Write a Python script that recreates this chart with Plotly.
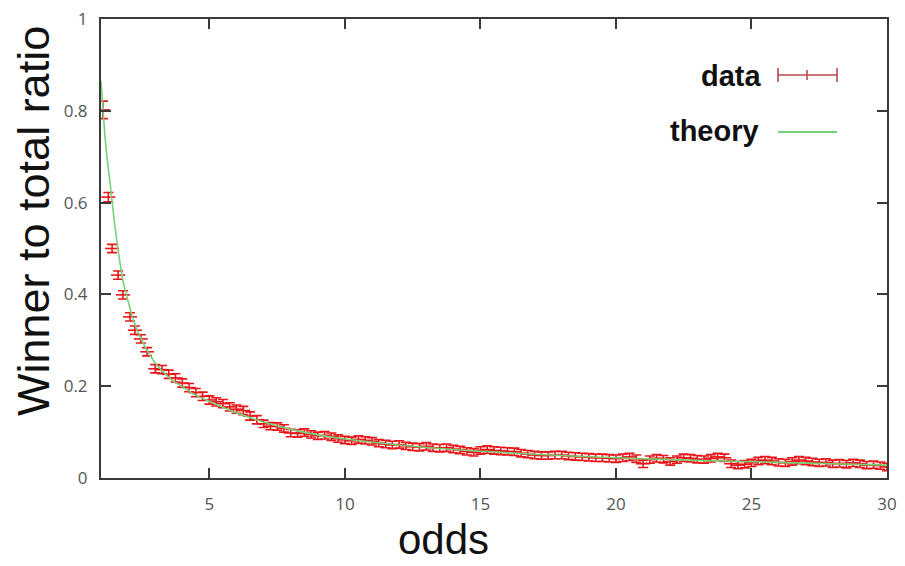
import plotly.graph_objects as go

# ---------------- data ----------------
odds_sparse = [1.07, 1.27, 1.41, 1.63, 1.81, 2.07, 2.25, 2.47, 2.70, 3.00]
ratio_sparse = [0.802, 0.612, 0.500, 0.442, 0.399, 0.351, 0.322, 0.303, 0.275, 0.238]
err_sparse = [0.019, 0.010, 0.009, 0.009, 0.009, 0.009, 0.009, 0.009, 0.009, 0.009]

odds_dense = [3.25, 3.5, 3.75, 4.0, 4.25, 4.5, 4.75, 5.0, 5.25, 5.5, 5.75, 6.0,
              6.25, 6.5, 6.75, 7.0, 7.25, 7.5, 7.75, 8.0, 8.25, 8.5, 8.75, 9.0,
              9.25, 9.5, 9.75, 10.0, 10.25, 10.5, 10.75, 11.0, 11.25, 11.5, 11.75, 12.0,
              12.25, 12.5, 12.75, 13.0, 13.25, 13.5, 13.75, 14.0, 14.25, 14.5, 14.75, 15.0,
              15.25, 15.5, 15.75, 16.0, 16.25, 16.5, 16.75, 17.0, 17.25, 17.5, 17.75, 18.0,
              18.25, 18.5, 18.75, 19.0, 19.25, 19.5, 19.75, 20.0, 20.25, 20.5, 20.75, 21.0,
              21.25, 21.5, 21.75, 22.0, 22.25, 22.5, 22.75, 23.0, 23.25, 23.5, 23.75, 24.0,
              24.25, 24.5, 24.75, 25.0, 25.25, 25.5, 25.75, 26.0, 26.25, 26.5, 26.75, 27.0,
              27.25, 27.5, 27.75, 28.0, 28.25, 28.5, 28.75, 29.0, 29.25, 29.5, 29.75, 30.0]
ratio_dense = [0.236, 0.226, 0.218, 0.207, 0.197, 0.186, 0.178, 0.170, 0.166, 0.162, 0.155, 0.150,
               0.147, 0.135, 0.127, 0.118, 0.113, 0.112, 0.108, 0.098, 0.097, 0.099, 0.095, 0.092,
               0.093, 0.090, 0.086, 0.083, 0.081, 0.084, 0.082, 0.080, 0.076, 0.074, 0.072, 0.073,
               0.070, 0.068, 0.067, 0.069, 0.066, 0.065, 0.066, 0.063, 0.061, 0.058, 0.056, 0.060,
               0.062, 0.060, 0.059, 0.058, 0.057, 0.054, 0.052, 0.050, 0.049, 0.049, 0.050, 0.050,
               0.048, 0.047, 0.046, 0.045, 0.044, 0.044, 0.043, 0.042, 0.044, 0.046, 0.042, 0.031,
               0.040, 0.043, 0.041, 0.036, 0.040, 0.044, 0.043, 0.041, 0.040, 0.043, 0.046, 0.044,
               0.031, 0.028, 0.030, 0.033, 0.037, 0.039, 0.037, 0.034, 0.033, 0.036, 0.039, 0.037,
               0.035, 0.033, 0.034, 0.031, 0.032, 0.030, 0.033, 0.031, 0.028, 0.029, 0.027, 0.024]
err_dense = [0.009, 0.009, 0.009, 0.009, 0.009, 0.009, 0.009, 0.009, 0.009, 0.009, 0.009, 0.009,
             0.009, 0.009, 0.009, 0.008, 0.008, 0.008, 0.008, 0.008, 0.008, 0.008, 0.008, 0.008,
             0.008, 0.008, 0.008, 0.008, 0.008, 0.008, 0.008, 0.008, 0.008, 0.008, 0.008, 0.008,
             0.008, 0.008, 0.008, 0.008, 0.008, 0.008, 0.008, 0.008, 0.008, 0.008, 0.008, 0.008,
             0.008, 0.008, 0.008, 0.008, 0.008, 0.008, 0.008, 0.008, 0.008, 0.008, 0.008, 0.008,
             0.008, 0.008, 0.008, 0.008, 0.008, 0.008, 0.008, 0.008, 0.008, 0.008, 0.008, 0.008,
             0.008, 0.008, 0.008, 0.008, 0.008, 0.008, 0.008, 0.008, 0.008, 0.008, 0.008, 0.008,
             0.008, 0.008, 0.008, 0.008, 0.008, 0.008, 0.008, 0.008, 0.008, 0.008, 0.008, 0.008,
             0.008, 0.008, 0.008, 0.008, 0.008, 0.008, 0.008, 0.008, 0.008, 0.008, 0.008, 0.008]

theory_odds = [1.0, 1.1, 1.2, 1.33, 1.5, 1.66, 1.81, 2.0, 2.18, 2.35, 2.55, 2.8, 3.06, 3.35,
               3.65, 4.0, 4.5, 5.0, 6.0, 7.0, 8.0, 9.0, 10.0, 12.0, 14.0, 16.0, 18.0, 20.0,
               22.0, 24.0, 26.0, 28.0, 30.0]
theory_ratio = [0.865, 0.780, 0.710, 0.645, 0.555, 0.485, 0.430, 0.385, 0.347, 0.320, 0.295,
                0.268, 0.246, 0.228, 0.212, 0.199, 0.180, 0.167, 0.142, 0.122, 0.106, 0.094,
                0.085, 0.072, 0.062, 0.055, 0.049, 0.044, 0.040, 0.037, 0.034, 0.031, 0.028]

x_ticks = [5, 10, 15, 20, 25, 30]
y_ticks = [0, 0.2, 0.4, 0.6, 0.8, 1]

# ---------------- styling ----------------
RED = "#e8161a"
RED_KEY = "#b94a4a"
GREEN = "#76d276"
AXIS = "#3a3a3a"
TICKFONT = dict(family="Open Sans, DejaVu Sans, sans-serif", size=17, color="#555555")

OFF = 8  # page body margin offset of the rendered html
W, H = 905 - OFF, 566 - OFF
# plot area in reference pixel coordinates: x 101..887, y 19..478
L = 101 - OFF
T = 19 - OFF
R = W - (887 - OFF)
B = H - (478 - OFF)
pw, ph = W - L - R, H - T - B


def px(xp):
    return (xp - OFF - L) / pw


def py(yp):
    return (H - B - (yp - OFF)) / ph


odds_all = odds_sparse + odds_dense
ratio_all = ratio_sparse + ratio_dense
err_all = err_sparse + err_dense

fig = go.Figure()

fig.add_trace(go.Scatter(
    x=odds_all, y=ratio_all, mode="markers", name="data",
    marker=dict(symbol="line-ew", size=10, color=RED, line=dict(color=RED, width=1.6)),
    error_y=dict(type="data", array=err_all, visible=True, color=RED, thickness=1.6, width=5),
    showlegend=False,
))

fig.add_trace(go.Scatter(
    x=theory_odds, y=theory_ratio, mode="lines", name="theory",
    line=dict(color=GREEN, width=1.6, shape="spline", smoothing=0.8),
    showlegend=False,
))

axis_common = dict(
    showgrid=False, zeroline=False, showline=True, linecolor=AXIS, linewidth=2,
    mirror="ticks", ticks="inside", ticklen=10, tickwidth=1.5, tickcolor=AXIS,
    tickfont=TICKFONT, ticklabeloverflow="allow",
)

fig.update_xaxes(range=[1, 30], tickvals=x_ticks, ticklabelstandoff=10, **axis_common)
fig.update_yaxes(range=[0, 1], tickvals=y_ticks, ticklabelstandoff=8, **axis_common)

TITLEFONT = dict(family="Liberation Sans, Arial, sans-serif", size=45, color="#111111")

annotations = [
    dict(text="Winner to total ratio", x=px(33), y=py(221), xref="paper", yref="paper",
         textangle=-90, showarrow=False, font=TITLEFONT, xanchor="center", yanchor="middle"),
    dict(text="odds", x=px(443), y=py(539), xref="paper", yref="paper",
         showarrow=False, font=dict(family="Liberation Sans, Arial, sans-serif", size=42,
                                    color="#111111"),
         xanchor="center", yanchor="middle"),
    dict(text="<b>data</b>", x=px(764), y=py(76), xref="paper", yref="paper",
         showarrow=False, xanchor="right", yanchor="middle",
         font=dict(family="Liberation Sans, Arial, sans-serif", size=29, color="#111111")),
    dict(text="<b>theory</b>", x=px(761), y=py(131), xref="paper", yref="paper",
         showarrow=False, xanchor="right", yanchor="middle",
         font=dict(family="Liberation Sans, Arial, sans-serif", size=29, color="#111111")),
]

shapes = [
    dict(type="line", xref="paper", yref="paper", x0=px(778), x1=px(837), y0=py(75), y1=py(75),
         line=dict(color=RED_KEY, width=1.6)),
    dict(type="line", xref="paper", yref="paper", x0=px(778), x1=px(778), y0=py(68), y1=py(82),
         line=dict(color=RED_KEY, width=1.6)),
    dict(type="line", xref="paper", yref="paper", x0=px(807), x1=px(807), y0=py(70), y1=py(80),
         line=dict(color=RED_KEY, width=1.6)),
    dict(type="line", xref="paper", yref="paper", x0=px(837), x1=px(837), y0=py(68), y1=py(82),
         line=dict(color=RED_KEY, width=1.6)),
    dict(type="line", xref="paper", yref="paper", x0=px(778), x1=px(837), y0=py(132), y1=py(132),
         line=dict(color=GREEN, width=2)),
]

fig.update_layout(
    width=W, height=H,
    margin=dict(l=L, r=R, t=T, b=B, autoexpand=False),
    paper_bgcolor="white", plot_bgcolor="white",
    annotations=annotations, shapes=shapes,
    showlegend=False,
)

fig.write_html("out.html")
